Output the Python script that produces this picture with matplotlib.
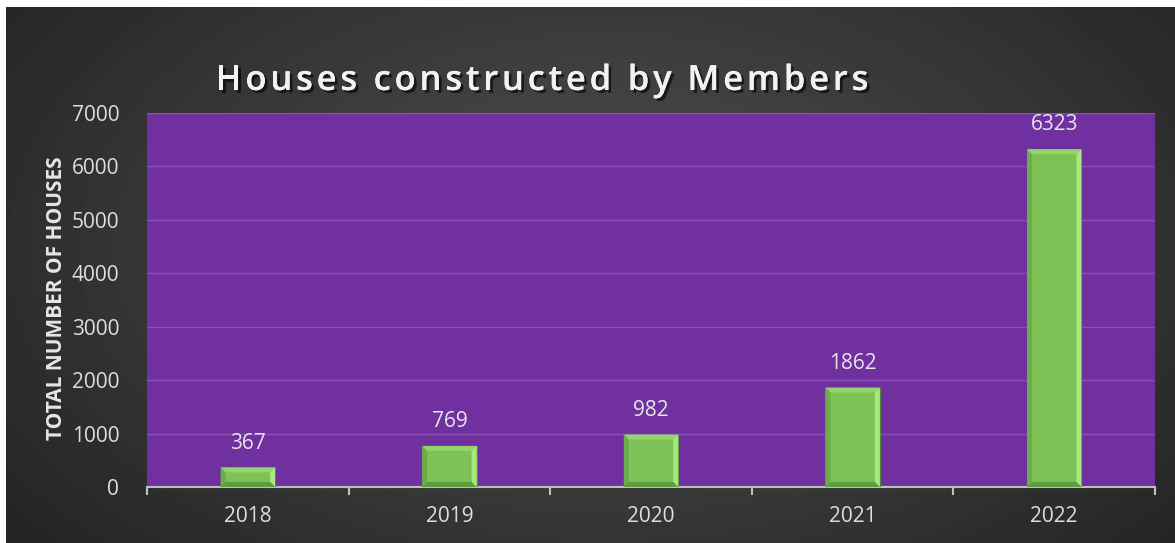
import numpy as np
import matplotlib.pyplot as plt
from matplotlib.patches import Polygon
import matplotlib.patheffects as pe

years = ["2018", "2019", "2020", "2021", "2022"]
houses = [367, 769, 982, 1862, 6323]
yticks = [0, 1000, 2000, 3000, 4000, 5000, 6000, 7000]
title = "Houses constructed by Members"

W, H = 1175, 543
fig = plt.figure(figsize=(W / 100, H / 100), dpi=100, facecolor="white")

# dark panel with a soft radial glow behind the chart
bg = fig.add_axes([6 / W, 0, 1 - 6 / W, 1 - 7 / H])
yy, xx = np.mgrid[0:536, 0:1169]
r = np.sqrt(((xx - 600) / 750.0) ** 2 + ((yy - 240) / 450.0) ** 2)
shade = np.clip(0.315 - 0.17 * r, 0.145, 0.315)
bg.imshow(shade, cmap="gray", vmin=0, vmax=1, aspect="auto", extent=[0, 1, 0, 1], origin="upper")
bg.set_axis_off()

# plot area in pixels: x 147..1155, y 113..487
ax = fig.add_axes([147 / W, (H - 487) / H, (1155 - 147) / W, (487 - 113) / H])
ax.set_facecolor("#7030a0")
x = np.arange(len(years))
bw = 0.27
bars = ax.bar(x, houses, width=bw, color="#7cc257", edgecolor="#4f8a34", linewidth=0.8, zorder=3)
ax.set_xlim(-0.5, len(years) - 0.5)
ax.set_ylim(0, 7000)
ax.set_yticks(yticks)
ax.set_xticks(x)
ax.set_xticklabels(years)
ax.grid(axis="y", color="#8a52b8", linewidth=1.0, zorder=0)
ax.set_axisbelow(True)
for s in ["top", "right", "left"]:
    ax.spines[s].set_visible(False)
ax.spines["bottom"].set_color("#c0c0c0")
ax.spines["bottom"].set_linewidth(1.5)
ax.tick_params(axis="y", length=0, pad=20, labelsize=15, labelcolor="#dedede")
ax.tick_params(axis="x", length=0, pad=14, labelsize=15, labelcolor="#dedede")
for t in ax.get_xticklabels() + ax.get_yticklabels():
    t.set_fontfamily("Open Sans")

# minor ticks at category boundaries, pointing down
ax.set_xticks(np.arange(-0.5, len(years)), minor=True)
ax.tick_params(axis="x", which="minor", length=6, width=1.5, color="#c0c0c0", direction="out")

# bevel around each bar
px_x = 1.0 / ((1155 - 147) / len(years))
px_y = 7000 / (487 - 113)
b = 5
for xi, v in zip(x, houses):
    l, rr = xi - bw / 2, xi + bw / 2
    dx, dy = b * px_x, min(b * px_y, v / 3)
    faces = [
        ([(l, v), (rr, v), (rr - dx, v - dy), (l + dx, v - dy)], "#94d46c"),
        ([(rr, v), (rr, 0), (rr - dx, dy), (rr - dx, v - dy)], "#a8e880"),
        ([(l, v), (l + dx, v - dy), (l + dx, dy), (l, 0)], "#6eab4c"),
        ([(l, 0), (l + dx, dy), (rr - dx, dy), (rr, 0)], "#5f9b40"),
    ]
    for pts, c in faces:
        ax.add_patch(Polygon(pts, closed=True, facecolor=c, edgecolor="none", zorder=4))
    ax.text(xi, v + 260, f"{v}", ha="center", va="bottom", fontsize=15,
            color="#e6e6e6", family="Open Sans", zorder=5)

fig.text(57 / W, 1 - 298 / H, "TOTAL NUMBER OF HOUSES", rotation=90, ha="center", va="center",
         fontsize=15, fontweight="bold", color="#e6e6e6", family="Open Sans")

# title drawn letter by letter to get the wide tracking
fig.canvas.draw()
renderer = fig.canvas.get_renderer()
tkw = dict(fontsize=25, fontweight="semibold", color="#f2f2f2", family="Open Sans", va="center",
           path_effects=[pe.withSimplePatchShadow(offset=(2, -2), shadow_rgbFace="black", alpha=0.6),
                         pe.Normal()])
full = fig.text(0, 0, title, **tkw)
full_w = full.get_window_extent(renderer).width
full.remove()
track = 3.7
total = full_w + track * (len(title) - 1)
cx = 542
xpos = cx - total / 2
for i, ch in enumerate(title):
    # advance by the width of the prefix so kerning stays close to normal
    pre = fig.text(0, 0, title[:i] if i else "", **tkw)
    w = pre.get_window_extent(renderer).width if i else 0
    pre.remove()
    fig.text((xpos + w + track * i) / W, 1 - 81 / H, ch, ha="left", **tkw)

fig.savefig("out.png", dpi=100, facecolor="white")
